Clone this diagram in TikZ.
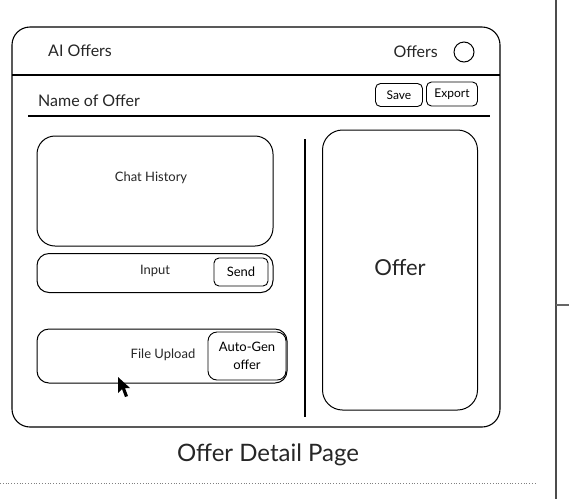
\documentclass[tikz,border=0pt]{standalone}
\usepackage{fontspec}
\setmainfont{Lato}
\usepackage{tikz}

\tikzset{
  cadre/.style={draw, line width=1pt, rounded corners=12pt},
  bouton/.style={draw, line width=0.9pt, rounded corners=5pt, inner sep=0pt},
  texte/.style={inner sep=1pt, text=black!85}
}

\begin{document}
\begin{tikzpicture}[x=1pt,y=-1pt]
    \useasboundingbox (0,0) rectangle (569,499);
    % Cadre de la page
    \draw[line width=1.1pt, rounded corners=18pt] (12,27) rectangle (500,427);
    \draw[line width=1.4pt] (12,75) -- (500,75); % Barre du haut
    \node[texte, anchor=west, font=\fontsize{16}{18}\selectfont] (titre) at (47,51) {AI Offers};
    \node[texte, anchor=east, font=\fontsize{16}{18}\selectfont] (menu) at (439,52) {Offers};
    \node[draw, circle, line width=1pt, minimum size=20pt, inner sep=0pt] (profil) at (464,52) {};
    % Nom de l'offre
    \node[texte, anchor=west, font=\fontsize{16}{18}\selectfont] (nom) at (37,101) {Name of Offer};
    \draw[line width=1.3pt] (28,116) -- (490,116); % Souligne
    \node[bouton, minimum width=47pt, minimum height=23pt, font=\fontsize{12}{14}\selectfont] (save) at (399,95) {Save};
    \node[bouton, minimum width=51pt, minimum height=24pt, font=\fontsize{12}{14}\selectfont] (export) at (452,94) {Export};
    % Colonne gauche
    \node[cadre, rounded corners=18pt, minimum width=236pt, minimum height=110pt] (chat) at (155,191) {};
    \node[texte, font=\fontsize{13}{15}\selectfont] (chatlbl) at (151,178) {Chat History};
    \node[cadre, minimum width=236pt, minimum height=39pt] (input) at (155,273) {};
    \node[texte, font=\fontsize{13}{15}\selectfont] (inputlbl) at (155,271) {Input};
    \node[bouton, minimum width=54pt, minimum height=28pt, font=\fontsize{13}{15}\selectfont] (send) at (241,272) {Send};
    \node[cadre, minimum width=250pt, minimum height=54pt] (upload) at (162,356) {};
    \node[texte, font=\fontsize{13}{15}\selectfont] (uploadlbl) at (163,355) {File Upload};
    \node[bouton, rounded corners=9pt, minimum width=78pt, minimum height=48pt, align=center,
          font=\fontsize{13}{18}\selectfont] (autogen) at (247,356) {Auto-Gen\\offer};
    % Curseur
    \fill (118,377) -- (118,393) -- (122,389) -- (125,397) -- (128,396) -- (125,388) -- (130,388) -- cycle;
    % Separation
    \draw[line width=1.3pt] (305,139) -- (305,417);
    % Colonne droite
    \node[cadre, rounded corners=20pt, minimum width=155pt, minimum height=280pt] (offre) at (400,270) {};
    \node[texte, font=\fontsize{22}{24}\selectfont] (offrelbl) at (400,268) {Offer};
    % Legende
    \node[texte, font=\fontsize{24}{26}\selectfont] (legende) at (268,455) {Offer Detail Page};
    \draw[gray, dotted, line width=0.8pt] (0,483) -- (535,483);
    \draw[black!70, line width=1.2pt] (556,0) -- (556,499);
    \draw[black!60, line width=1.2pt] (556,305) -- (569,305);
\end{tikzpicture}
\end{document}
